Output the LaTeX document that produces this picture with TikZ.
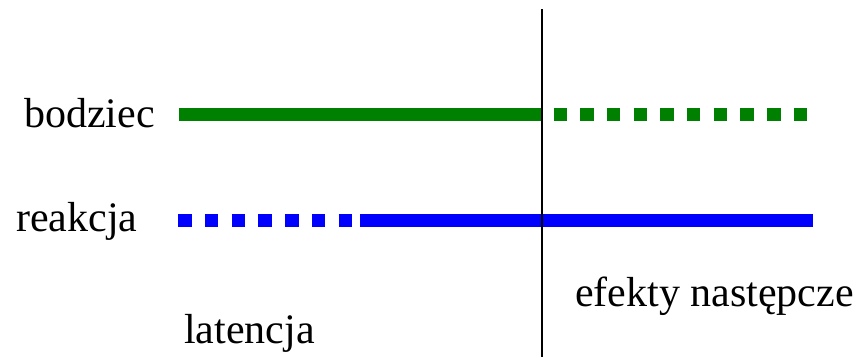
\documentclass[tikz,border=0pt]{standalone}
\usepackage{fontspec}
\setmainfont{Liberation Serif}
\definecolor{stimgreen}{RGB}{0,128,0}
\definecolor{respblue}{RGB}{0,0,255}
\begin{document}
\begin{tikzpicture}[x=1pt,y=-1pt,
  lbl/.style={anchor=base west,inner sep=0pt,font=\fontsize{42}{48}\selectfont},
  bar/.style={line width=13pt,line cap=butt},
  dotbar/.style={bar,dash pattern=on 13.4pt off 13.3pt}]
\useasboundingbox (0,0) rectangle (864,357);
% time axis split
\coordinate (top) at (541.5,9);
\coordinate (bot) at (541.5,357);
% stimulus line
\coordinate (s0) at (178.5,114.5);
\coordinate (s1) at (541,114.5);
\coordinate (s2) at (553.5,114.5);
\coordinate (s3) at (808,114.5);
% response line
\coordinate (r0) at (178.3,220);
\coordinate (r1) at (354,220);
\coordinate (r2) at (360,220);
\coordinate (r3) at (813.3,220);
\draw[bar,stimgreen] (s0) -- (s1);
\draw[dotbar,stimgreen] (s2) -- (s3);
\draw[dotbar,respblue] (r0) -- (r1);
\draw[bar,respblue] (r2) -- (r3);
\draw[line width=2pt] (top) -- (bot);
% labels
\node[lbl] (bodziec) at (24,127.7) {bodziec};
\node[lbl] (reakcja) at (16,231.5) {reakcja};
\node[lbl] (efekty) at (575,306) {efekty następcze};
\node[lbl] (latencja) at (184,343.5) {latencja};
\end{tikzpicture}
\end{document}
